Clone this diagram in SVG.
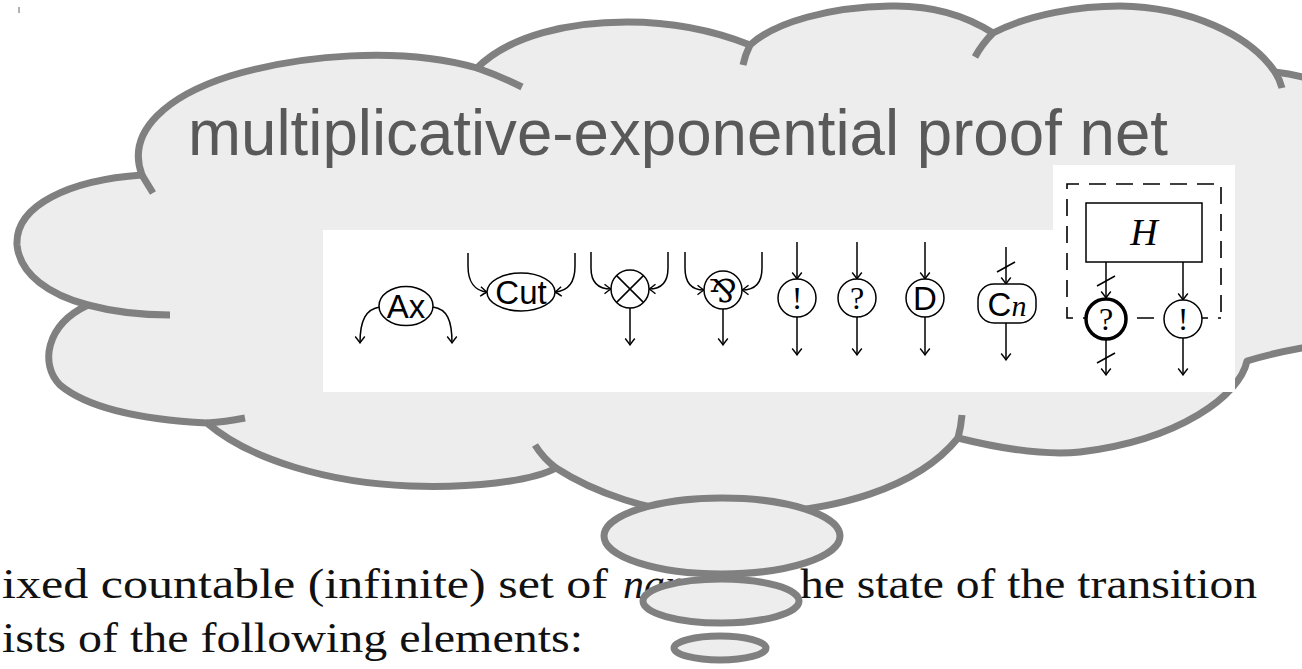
<svg xmlns="http://www.w3.org/2000/svg" width="1302" height="669" viewBox="0 0 1302 669">
  <style>
    .cloud{fill:#ededed;stroke:#808080;stroke-width:7;stroke-linejoin:round}
    .hook{fill:none;stroke:#808080;stroke-width:7}
    .wire{fill:none;stroke:#000;stroke-width:1.5}
    .node{fill:#fff;stroke:#000;stroke-width:1.5}
    .sans{font-family:"Liberation Sans",Arial,sans-serif;font-size:33px;fill:#000;text-anchor:middle}
    .serif{font-family:"Liberation Serif","Times New Roman",serif;font-size:32px;fill:#000;text-anchor:middle}
    .paper{font-family:"Liberation Serif","Times New Roman",serif;font-size:42px;fill:#111}
    .title{font-family:"Liberation Sans",Arial,sans-serif;font-size:64px;fill:#595959}
  </style>
  <defs>
    <marker id="arr" viewBox="-8 -6 10 12" refX="0" refY="0" markerWidth="10" markerHeight="12" markerUnits="userSpaceOnUse" orient="auto">
      <path d="M-6.5,-4.8 Q-2,-1.2 0,0 Q-2,1.2 -6.5,4.8" fill="none" stroke="#000" stroke-width="1.4"/>
    </marker>
  </defs>

  <rect width="1302" height="669" fill="#fff"/>
  <line x1="19" y1="7" x2="19" y2="13" stroke="#999" stroke-width="1.5"/>

  <!-- page text behind the bubbles -->
  <g id="page-text">
    <text class="paper" x="2" y="598" textLength="606" lengthAdjust="spacingAndGlyphs">ixed countable (infinite) set of</text>
    <text class="paper" x="623" y="598" font-style="italic">nam</text>
    <text class="paper" x="800" y="598" textLength="457" lengthAdjust="spacingAndGlyphs">he state of the transition</text>
    <text class="paper" x="2" y="652" textLength="581" lengthAdjust="spacingAndGlyphs">ists of the following elements:</text>
  </g>

  <!-- thought cloud -->
  <g id="cloud">
    <path class="cloud" d="M142,175 C125,130 170,95 230,76 C300,55 400,46 477,68
      C510,35 570,22 627,22 C680,22 720,33 750,45
      C775,22 830,7 890,6 C930,5 965,15 993,33
      C1030,14 1080,6 1120,6 C1190,7 1250,35 1275,72
      C1285,73 1295,75 1302,77 L1340,80 L1340,345 L1302,348
      C1280,352 1260,357 1247,361
      C1240,395 1180,440 1080,452 C1040,456 990,446 958,438
      C920,485 840,515 720,515 C650,515 590,490 556,468
      C530,482 470,488 410,486 C330,483 250,460 207,423
      C150,420 90,410 60,385 C40,365 45,325 88,305
      C50,295 20,275 17,245 C15,205 70,180 142,175 Z"/>
    <path class="hook" d="M142,175 Q148,185 153,193"/>
    <path class="hook" d="M477,68 Q500,76 522,87"/>
    <path class="hook" d="M750,45 Q745,55 743,65"/>
    <path class="hook" d="M993,33 Q982,44 975,57"/>
    <path class="hook" d="M1275,72 Q1280,80 1282,88"/>
    <path class="hook" d="M88,305 Q125,315 170,315"/>
    <path class="hook" d="M207,423 Q225,422 245,418"/>
    <path class="hook" d="M556,468 Q543,458 535,445"/>
    <path class="hook" d="M958,438 Q961,427 962,415"/>
  </g>

  <text id="title" class="title" x="188" y="155" textLength="980" lengthAdjust="spacingAndGlyphs">multiplicative-exponential proof net</text>

  <!-- proof-net links panel -->
  <path id="panel" d="M323,230 H1053 V165 H1235 V392 H323 Z" fill="#fff"/>

  <g id="box-frame">
    <path d="M1221,312 V184 H1067 V318 H1221" fill="none" stroke="#000" stroke-width="1.6" stroke-dasharray="17 10"/>
    <rect x="1086" y="203" width="116" height="59" class="node"/>
    <text class="serif" x="1144" y="245" style="font-style:italic;font-size:38px">H</text>
  </g>

  <g id="wires">
    <path class="wire" d="M380,307 C366,309 360,320 360,343" marker-end="url(#arr)"/>
    <path class="wire" d="M433,307 C447,309 452,320 452,343" marker-end="url(#arr)"/>
    <path class="wire" d="M468,253 V266 C468,282 475,291 487,292" marker-end="url(#arr)"/>
    <path class="wire" d="M575,253 V266 C575,282 568,291 555,292" marker-end="url(#arr)"/>
    <path class="wire" d="M591,252 V268 C591,283 598,289 611,289" marker-end="url(#arr)"/>
    <path class="wire" d="M668,252 V268 C668,283 661,289 649,289" marker-end="url(#arr)"/>
    <path class="wire" d="M630,308 V345" marker-end="url(#arr)"/>
    <path class="wire" d="M685,252 V268 C685,283 692,290 704,290" marker-end="url(#arr)"/>
    <path class="wire" d="M762,252 V268 C762,283 755,290 742,290" marker-end="url(#arr)"/>
    <path class="wire" d="M723,309 V345" marker-end="url(#arr)"/>
    <path class="wire" d="M797,242 V279" marker-end="url(#arr)"/>
    <path class="wire" d="M797,317 V355" marker-end="url(#arr)"/>
    <path class="wire" d="M857,242 V279" marker-end="url(#arr)"/>
    <path class="wire" d="M857,317 V355" marker-end="url(#arr)"/>
    <path class="wire" d="M925,242 V279" marker-end="url(#arr)"/>
    <path class="wire" d="M925,317 V355" marker-end="url(#arr)"/>
    <path class="wire" d="M1006,247 V284" marker-end="url(#arr)"/>
    <path class="wire" d="M997,272 L1015,262"/>
    <path class="wire" d="M1006,323 V360" marker-end="url(#arr)"/>
    <path class="wire" d="M1106,262 V298" marker-end="url(#arr)"/>
    <path class="wire" d="M1097,286 L1115,276"/>
    <path class="wire" d="M1106,340 V375" marker-end="url(#arr)"/>
    <path class="wire" d="M1097,363 L1115,353"/>
    <path class="wire" d="M1183,262 V300" marker-end="url(#arr)"/>
    <path class="wire" d="M1183,338 V375" marker-end="url(#arr)"/>
  </g>

  <g id="ax">
    <ellipse class="node" cx="406" cy="306" rx="27" ry="19.5"/>
    <text class="sans" x="406" y="318">Ax</text>
  </g>
  <g id="cut">
    <ellipse class="node" cx="521" cy="292" rx="34" ry="19"/>
    <text class="sans" x="521" y="304">Cut</text>
  </g>
  <g id="tensor">
    <circle class="node" cx="630" cy="289" r="19"/>
    <path class="wire" d="M616.6,275.6 L643.4,302.4 M643.4,275.6 L616.6,302.4"/>
  </g>
  <g id="par">
    <circle class="node" cx="723" cy="290" r="19"/>
    <text class="serif" x="723" y="302" style="font-family:'DejaVu Serif','DejaVu Sans',serif;font-size:32px">⅋</text>
  </g>
  <g id="bang">
    <circle class="node" cx="797" cy="298" r="19"/>
    <text class="serif" x="797" y="309">!</text>
  </g>
  <g id="why">
    <circle class="node" cx="857" cy="298" r="19"/>
    <text class="serif" x="857" y="309">?</text>
  </g>
  <g id="dereliction">
    <circle class="node" cx="925" cy="298" r="19"/>
    <text class="sans" x="925" y="310">D</text>
  </g>
  <g id="contraction">
    <rect class="node" x="978" y="284" width="58" height="39" rx="16"/>
    <text class="sans" x="1007" y="316"><tspan>C</tspan><tspan font-family="Liberation Serif,serif" font-style="italic" font-size="30">n</tspan></text>
  </g>
  <g id="box-why">
    <circle cx="1106" cy="319" r="20" fill="#fff" stroke="#000" stroke-width="3.5"/>
    <text class="serif" x="1106" y="330">?</text>
  </g>
  <g id="box-bang">
    <circle class="node" cx="1183" cy="319" r="19"/>
    <text class="serif" x="1183" y="330">!</text>
  </g>

  <!-- trailing bubbles -->
  <g id="bubbles">
    <ellipse class="cloud" cx="722" cy="536" rx="118" ry="38"/>
    <ellipse class="cloud" cx="721" cy="601" rx="78" ry="22"/>
    <ellipse class="cloud" cx="720" cy="648" rx="46" ry="12"/>
  </g>
</svg>
